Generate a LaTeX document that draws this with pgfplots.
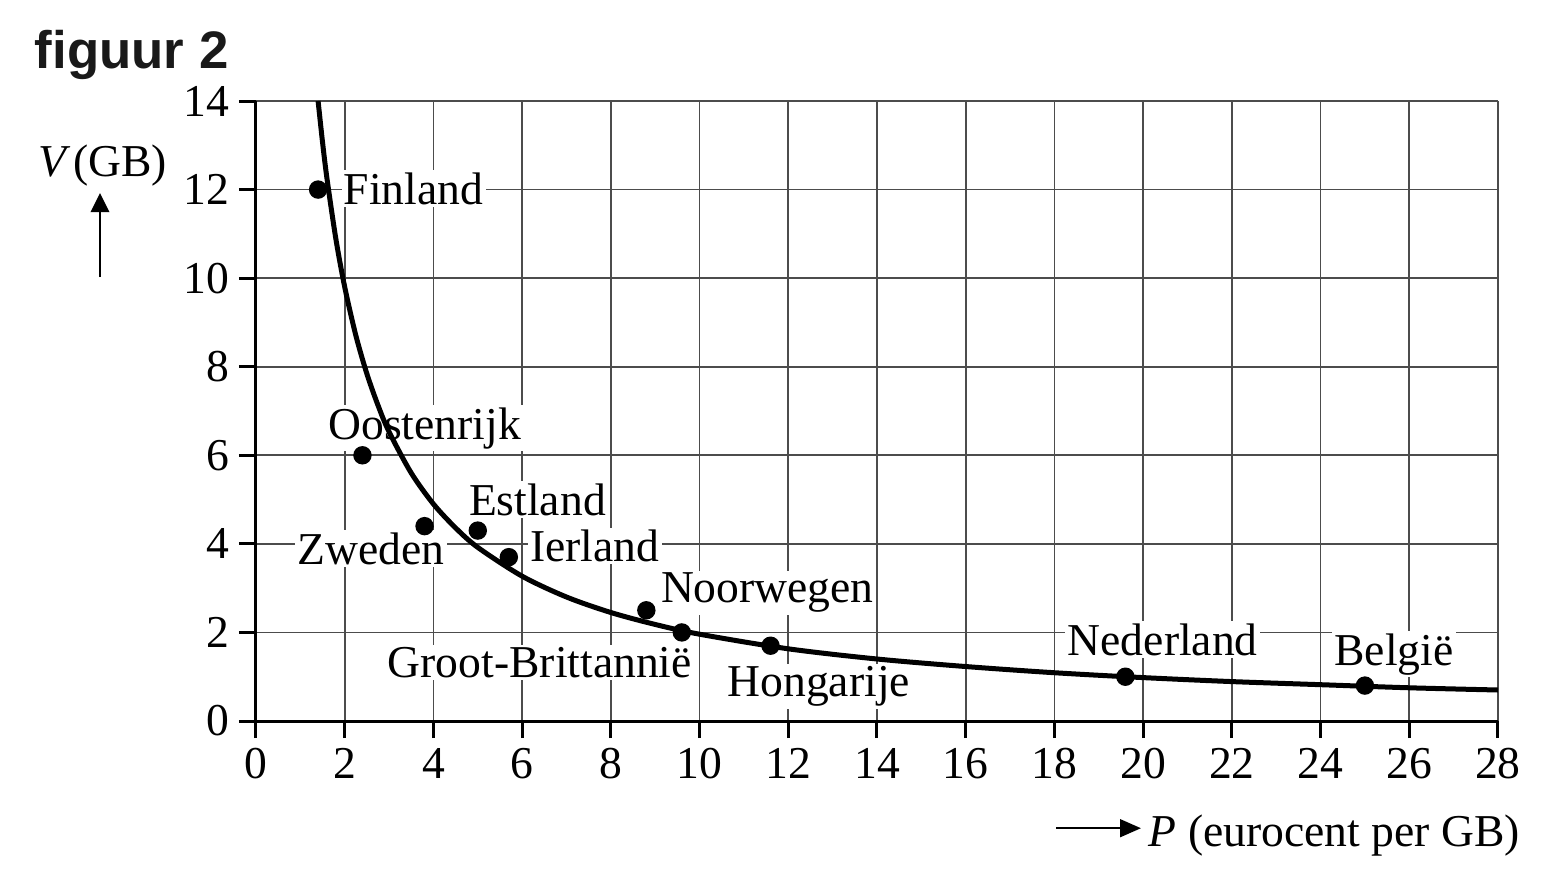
\documentclass[border=0pt]{standalone}
\usepackage{fontspec}
\setmainfont{Liberation Serif}
\newfontfamily\titlefont{Liberation Sans}
\usepackage{pgfplots}
\pgfplotsset{compat=1.18}
\usetikzlibrary{arrows.meta}
\newcommand{\fs}{\fontsize{11.4}{13.5}\selectfont}
\tikzset{lbl/.style={fill=white, inner sep=0.6pt, anchor=base west, font=\fs}}

\begin{document}
\begin{tikzpicture}
\begin{axis}[
    set layers,
    width=310.5pt, height=155pt, scale only axis,
    xmin=0, xmax=28, ymin=0, ymax=14,
    xtick distance=2, ytick distance=2,
    axis x line=bottom, axis y line=left,
    axis line style={-, line width=0.75pt},
    tick align=outside, major tick length=4.3pt,
    tick style={line width=0.75pt, black},
    grid=major, grid style={line width=0.4pt, black!70},
    every tick label/.append style={font=\fs},
    /pgf/number format/assume math mode=true,
    xticklabel style={anchor=base, yshift=-10pt},
    yticklabel style={inner sep=2.2pt},
    clip=false,
]
    % country labels (white box over the grid, under the curve)
    \begin{pgfonlayer}{pre main}
    \node[lbl] at (axis cs:1.91,11.67) {Finland};
    \node[lbl] at (axis cs:1.56,6.36) {Oostenrijk};
    \node[lbl] at (axis cs:0.86,3.54) {Zweden};
    \node[lbl] at (axis cs:4.73,4.65) {Estland};
    \node[lbl] at (axis cs:6.11,3.60) {Ierland};
    \node[lbl] at (axis cs:9.06,2.67) {Noorwegen};
    \node[lbl] at (axis cs:2.90,0.98) {Groot-Brittannië};
    \node[lbl] at (axis cs:10.56,0.55) {Hongarije};
    \node[lbl] at (axis cs:18.23,1.49) {Nederland};
    \node[lbl] at (axis cs:24.24,1.26) {België};
    \end{pgfonlayer}

    % demand curve
    \addplot[black, line width=1.25pt, smooth, tension=0.5] coordinates {
        (1.4,14) (1.5,13.07) (1.6,12.25) (1.8,10.89) (2.0,9.8) (2.25,8.71)
        (2.5,7.84) (2.75,7.13) (3,6.53) (3.5,5.6) (4,4.9) (4.5,4.36)
        (5,3.92) (6,3.27) (7,2.8) (8,2.45) (9,2.18) (10,1.96) (12,1.63)
        (14,1.4) (16,1.23) (18,1.09) (20,0.98) (22,0.89) (24,0.82)
        (26,0.75) (28,0.7)};

    % countries
    \addplot[only marks, mark=*, mark size=2.1pt, black] coordinates {
        (1.4,12) (2.4,6) (3.8,4.4) (5.0,4.3) (5.7,3.7) (8.8,2.5)
        (9.6,2.0) (11.6,1.7) (19.6,1.0) (25,0.8)};
\end{axis}
\path[use as bounding box] (-64pt,-39.75pt) rectangle (324.5pt,180.25pt);

\node[anchor=base west, inner sep=0pt, text=black!90,
      font=\titlefont\bfseries\fontsize{13.2}{15}\selectfont] at (-55.5pt,163.25pt) {figuur 2};
\node[anchor=base west, inner sep=0pt, font=\fs] at (-54.5pt,136.25pt) {\textit{V}\kern0.6pt(GB)};
\draw[line width=0.6pt, -{Triangle[width=4.6pt,length=4.8pt]}] (-39pt,111pt) -- (-39pt,132pt);
\draw[line width=0.6pt, -{Triangle[width=4.4pt,length=5.2pt]}] (200.1pt,-26.8pt) -- (221.25pt,-26.8pt);
\node[anchor=base west, inner sep=0pt, font=\fs] at (223pt,-31.4pt) {\textit{P} (eurocent per GB)};
\end{tikzpicture}
\end{document}
